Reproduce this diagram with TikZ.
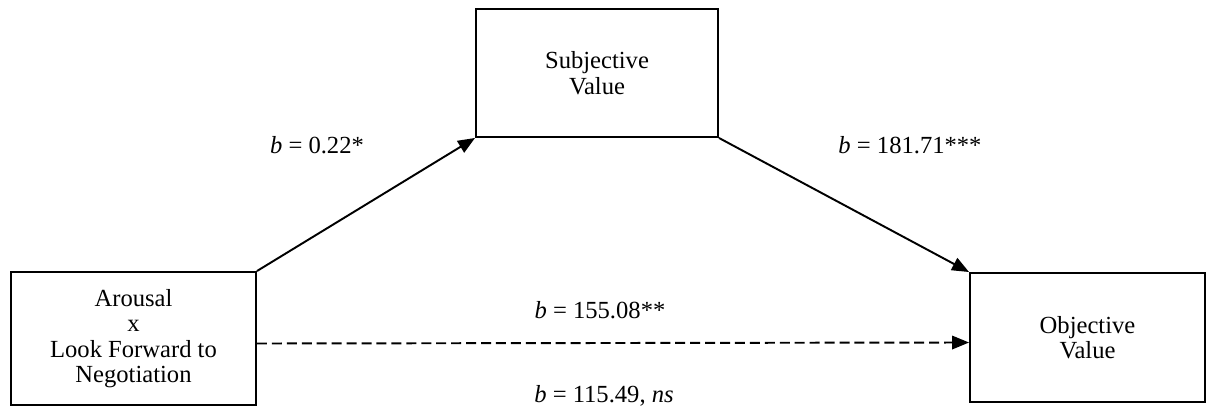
\documentclass[tikz,border=0pt]{standalone}
\usepackage{fontspec}
\setmainfont{Liberation Serif}
\usetikzlibrary{arrows.meta,positioning}

\begin{document}
\begin{tikzpicture}[
  var/.style={draw,line width=1.1pt,align=center,font=\fontsize{14}{14.5}\selectfont},
  arr/.style={-{Triangle[length=0.34cm,width=0.27cm]},line width=1.1pt},
  coef/.style={font=\fontsize{14}{16}\selectfont}
]
\useasboundingbox (0,0) rectangle (24.14,8.14);

\node[var,minimum width=4.9cm,minimum height=2.66cm] (lft) at (2.67,1.37)
  {Arousal\\x\\Look Forward to\\Negotiation};
\node[var,minimum width=4.84cm,minimum height=2.56cm] (subj) at (11.94,6.68)
  {Subjective\\Value};
\node[var,minimum width=4.7cm,minimum height=2.58cm] (obj) at (21.75,1.39)
  {Objective\\Value};

\draw[arr] (lft.north east) -- (subj.south west);
\draw[arr] (subj.south east) -- (obj.north west);
\draw[arr,dashed,dash pattern=on 5.7pt off 2.8pt] ([yshift=-0.1cm]lft.east) -- ([yshift=-0.1cm]obj.west);

\node[coef] (ba) at (6.34,5.24) {\textit{b} = 0.22*};
\node[coef] (bb) at (18.2,5.24) {\textit{b} = 181.71***};
\node[coef] (bc) at (12.0,1.94) {\textit{b} = 155.08**};
\node[coef] (bd) at (12.08,0.22) {\textit{b} = 115.49, \textit{ns}};
\end{tikzpicture}
\end{document}
